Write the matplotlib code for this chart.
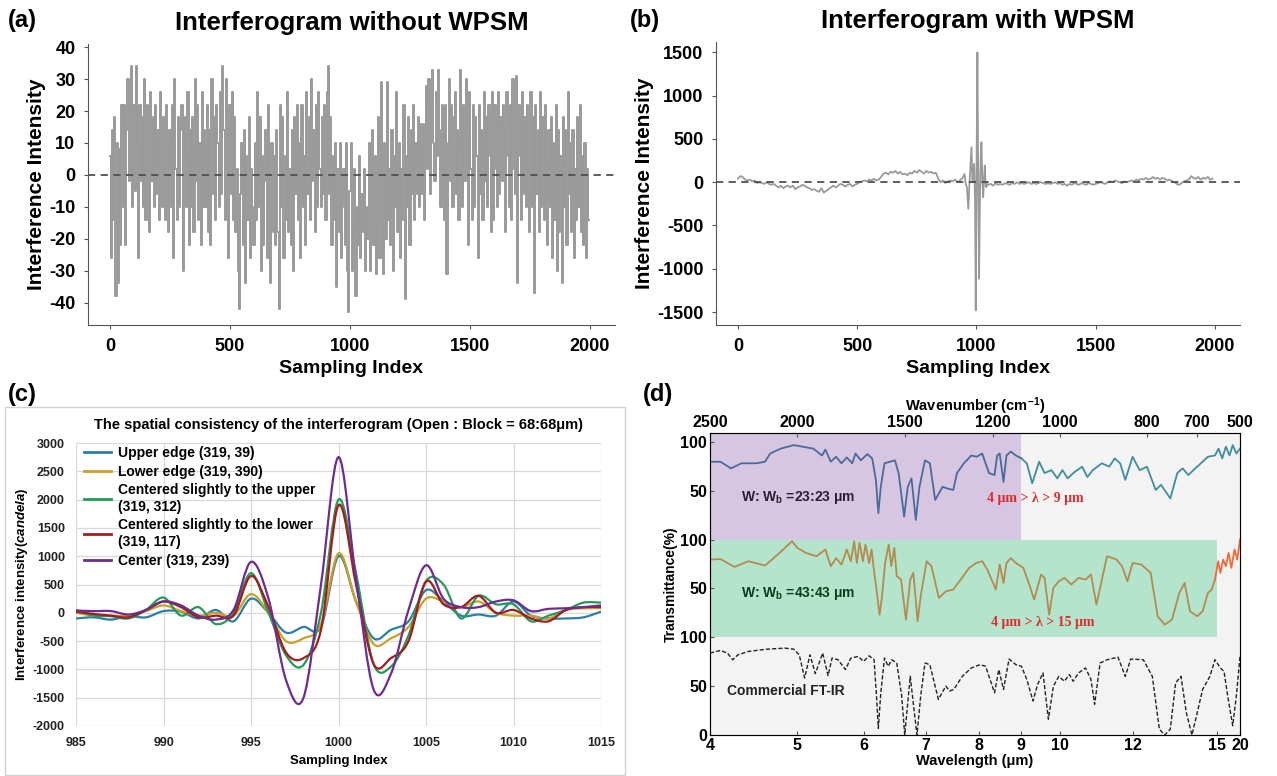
import numpy as np
import matplotlib.pyplot as plt
from matplotlib.path import Path
from matplotlib.patches import PathPatch, Rectangle

plt.rcParams['font.family'] = ['Liberation Sans', 'DejaVu Sans']
plt.rcParams['font.weight'] = 'bold'
plt.rcParams['axes.titleweight'] = 'bold'
plt.rcParams['axes.labelweight'] = 'bold'
plt.rcParams['axes.unicode_minus'] = False
plt.rcParams['mathtext.fontset'] = 'custom'
plt.rcParams['mathtext.rm'] = 'Liberation Sans:bold'
plt.rcParams['mathtext.bf'] = 'Liberation Sans:bold'
plt.rcParams['mathtext.it'] = 'Liberation Sans:italic:bold'

# ---------------- (a) interferogram without WPSM, every 5th sample ----------------
a_step = 5
a_vals = [
    6, -26, 14, -14, 18, -38, 10, -34, 8, -22, 22, -10, 22, -22, 14, 30, -2, 22, 34, -10,
    22, -5, 34, 10, -26, 22, -2, 18, -10, 30, -14, 22, 6, -18, 26, -2, 18, -10, 22, -6,
    14, -14, 26, 2, -10, 18, -14, 22, 10, -18, 14, -10, 22, -26, 30, 2, -14, 18, -10, 14,
    22, -30, 18, 6, -10, 26, -22, 14, -10, 18, -18, 30, -2, 22, -14, 10, -22, 26, -10, 14,
    -10, 22, -18, 14, -22, 30, -6, 18, -14, 22, 10, -10, 26, -6, 34, 14, -14, 30, 18, -26,
    22, -6, 26, -14, 18, -18, 2, -30, -42, -6, 10, -22, 14, -34, 6, -14, 18, -26, 2, -10,
    -22, 10, -14, 26, -10, 18, -30, 6, -22, -2, 14, -26, 22, -10, -34, 10, -18, 6, -22, 14,
    -18, -42, 22, -10, 18, -26, 6, -14, 26, -18, 2, -22, 14, -30, 18, -6, 22, -14, 10, -26,
    22, -10, 6, -22, 26, -6, 18, -14, 30, -2, 14, -18, 22, -10, 26, 2, -10, 18, -6, 22,
    -14, 26, 34, -6, 18, -22, 6, -14, 10, -35, 2, -18, 10, -26, -10, 2, -22, 10, -30, -43,
    -5, 10, -30, -18, 2, -38, -10, -22, 6, -26, -6, -18, 2, -30, -10, -20, 10, -30, -6, 14,
    -22, 6, -31, -10, 18, -26, 29, -14, -31, 10, -20, 29, -14, 2, -22, 14, -30, 6, -10, 26,
    -18, 10, -26, 2, -14, 22, -39, 6, -10, 18, -22, 14, -6, 22, -14, 10, -6, 18, -10, 16,
    -6, 16, -14, 10, 28, 2, 30, -6, 22, 33, 10, -2, 26, 6, 33, 14, -10, 22, 2, -14,
    22, -31, 10, 30, -2, 22, -10, 18, 26, -6, 14, -14, 33, 6, -10, 22, -2, 30, 14, -22,
    26, 2, -14, 22, -10, 18, 6, -26, 22, -6, 14, -14, 26, -2, 18, -10, 22, 6, -18, 26,
    -14, 22, 2, -10, 26, -6, 18, -2, 22, 14, -18, 26, 6, -10, 22, -14, 30, 2, -6, 31,
    -34, 22, 6, -14, 26, -6, 18, -10, 22, 2, -18, 26, -10, 18, -37, 22, -6, 14, -18, 26,
    -10, 18, -14, 22, 6, -22, 14, -10, 18, -26, 10, -14, 22, -30, 14, -18, 6, -34, 18, -10,
    14, -22, 26, -6, 10, -18, 14, -26, 2, -14, 18, -10, 22, -18, 6, -22, 10, -26, 2, -14,
]

# ---------------- (b) interferogram with WPSM ----------------
b_left_vals = [
    40, 70, 60, 30, 20, 30, 10, 20, -10, 0,
    -10, -20, 0, -20, -30, -20, -40, -60, -40, -70,
    -50, -40, -60, -40, -80, -60, -50, -30, -40, -60,
    -70, -90, -80, -100, -110, -70, -120, -100, -80, -60,
    -40, -60, -40, -20, -30, -50, -30, -20, -50, -30,
    -20, 0, 10, 20, 10, 30, 20, 40, 20, 30,
    60, 100, 110, 90, 120, 110, 130, 100, 120, 90,
    100, 80, 110, 100, 130, 110, 140, 120, 100, 130,
    110, 120, 100, 110, 40, 0, 20, -10, 10, 20,
    10, 30, 0, 20, 40,
]
b_burst_idx = [950, 955, 960, 966, 970, 974, 979, 983, 986, 990, 994, 997, 1000,
               1004, 1007, 1011, 1015, 1018, 1021, 1025, 1028, 1032, 1035, 1038, 1041, 1045]
b_burst_vals = [96, -20, -58, -308, -50, 135, 404, 0, 96, 212, -200, -1482, 0,
                1500, 200, -1116, -100, 300, 462, 0, -173, 50, 193, 0, -58, -20]
b_right_vals = [
    -30, -20, -40, -10, -30, -20, -30, -10, -20, -30,
    -10, -20, 0, -20, -10, -20, -10, 0, -20, -10,
    -20, -10, 0, -10, -20, -10, -20, -10, 0, -20,
    -10, -30, -20, -40, -20, -30, -10, -20, -30, -10,
    -20, -30, -10, -20, -30, -20, -10, 0, -10, -20,
    0, 10, 0, 20, 10, 0, -10, 10, 0, 10,
    20, 10, 30, 20, 40, 30, 50, 30, 40, 60,
    40, 50, 30, 50, 40, 20, 30, 10, 0, -20,
    -30, -10, 10, 20, 30, 70, 50, 40, 60, 30,
    50, 40, 60, 30, 40,
]

# ---------------- (c) spatial consistency ----------------
c_idx = list(range(985, 1016))
c_labels = ['Upper edge (319, 39)', 'Lower edge (319, 390)',
            'Centered slightly to the upper\n(319, 312)',
            'Centered slightly to the lower\n(319, 117)', 'Center (319, 239)']
c_colors = ['#2b7fa6', '#c9a128', '#27995a', '#a31d1d', '#6b2c93']
c_upper = [-100, -80, -120, -60, -80, 30, 20, -100, 50, -150, 250, 0, -350, -250, -250,
           1000, 200, -450, -300, -150, 400, 200, -50, -30, -50, 200, -50, -100, -100, -80, 20]
c_lower = [0, -50, -50, -50, 30, 130, 30, -50, 0, -50, 330, 0, -500, -450, -200,
           1050, 200, -550, -450, -250, 250, 200, 100, 200, 0, -50, -50, -100, 50, 80, 80]
c_up_center = [50, -50, -60, -100, 50, 270, -50, 100, -200, 0, 700, 0, -750, -920, 0,
               2000, 700, -900, -950, -400, 560, 500, -100, 300, 150, 150, -150, -50, 50, 180, 180]
c_low_center = [20, -20, -50, -80, 50, 200, 100, -80, -50, -50, 650, 100, -700, -800, -300,
                1900, 500, -900, -800, -500, 550, 150, 100, 300, 0, 50, -100, -150, 50, 100, 100]
c_center = [40, 30, 30, -30, 50, 200, 130, -50, -120, 50, 900, 250, -1190, -1500, 500,
            2750, 600, -1350, -1075, 50, 840, 250, 100, 100, 200, 220, 30, 70, 80, 100, 130]
c_series = [c_upper, c_lower, c_up_center, c_low_center, c_center]

# ---------------- (d) transmittance spectra (wavelength um, %T) ----------------
d_top_wl = [4.0, 4.12, 4.24, 4.36, 4.53, 4.63, 4.69, 4.81, 4.96, 5.08, 5.24, 5.37, 5.42, 5.5,
            5.58, 5.66, 5.74, 5.82, 5.87, 5.95, 6.05, 6.13, 6.19, 6.23, 6.27, 6.33, 6.42, 6.5,
            6.56, 6.65, 6.71, 6.77, 6.84, 6.9, 6.99, 7.08, 7.18, 7.32, 7.42, 7.52, 7.59, 7.72,
            7.86, 7.96, 8.08, 8.24, 8.37, 8.43, 8.49, 8.58, 8.65, 8.75, 8.87, 9.0, 9.14, 9.28,
            9.46, 9.6, 9.78, 9.93, 10.07, 10.21, 10.41, 10.61, 10.75, 10.9, 11.15, 11.35, 11.5,
            11.65, 11.79, 11.99, 12.24, 12.5, 12.81, 13.0, 13.33, 13.58, 13.77, 13.97, 14.22,
            14.42, 14.67, 14.92, 15.3, 16.1, 16.9, 17.7, 18.4, 19.2, 20.0]
d_top_T = [79.6, 79.6, 72.8, 78, 78, 79.6, 88, 93, 96.6, 95, 93, 86, 92, 79.6,
           84.7, 78, 84, 78, 88, 81, 87.4, 83, 61, 27, 54, 78, 79.6, 81,
           68, 23.5, 54, 62.6, 20, 54, 81, 78, 40.5, 54, 52, 50.7, 68, 78,
           86, 84.7, 88, 68, 66, 86, 88, 59, 86, 90, 86, 83, 78, 57.5,
           79.6, 68, 71, 62.6, 71, 62.6, 69.4, 74.5, 64, 71, 78, 74.5, 83,
           78, 61, 84.7, 71, 74.5, 50.7, 56, 42, 68, 72.8, 66, 72.8,
           78, 84.7, 86, 93, 83, 95, 86, 96.6, 88, 93]
d_mid_wl = [4.0, 4.12, 4.28, 4.44, 4.63, 4.73, 4.84, 4.94, 5.0, 5.13, 5.29, 5.42, 5.5, 5.58,
            5.66, 5.74, 5.8, 5.85, 5.89, 5.93, 5.98, 6.02, 6.08, 6.12, 6.16, 6.2, 6.25, 6.29,
            6.34, 6.4, 6.44, 6.49, 6.53, 6.6, 6.68, 6.75, 6.8, 6.87, 6.92, 7.02, 7.11, 7.25,
            7.38, 7.52, 7.66, 7.82, 7.95, 8.08, 8.2, 8.4, 8.49, 8.58, 8.65, 8.75, 8.87, 9.05,
            9.19, 9.33, 9.51, 9.6, 9.72, 9.83, 9.97, 10.12, 10.31, 10.51, 10.7, 10.85, 11.0,
            11.15, 11.29, 11.55, 11.7, 11.85, 11.99, 12.3, 12.63, 12.88, 13.13, 13.39, 13.65,
            13.84, 14.03, 14.29, 14.48, 14.67, 14.8, 14.92, 15.2, 15.7, 16.3, 16.9, 17.5,
            18.1, 18.8, 19.4, 20.0]
d_mid_T = [79.5, 80, 72, 77.8, 73.4, 81, 89.8, 98.3, 91.5, 86.3, 83, 89.8, 72.7, 81,
           74.4, 89.8, 77.8, 98.3, 76, 96.6, 77.8, 94.9, 76, 89.8, 67.6, 48.8, 23, 42,
           76, 94.9, 72.7, 91.5, 62.5, 59, 18, 59, 65.9, 16.4, 42, 77.8, 72.7, 40.3,
           47, 48.8, 59, 71, 76, 77.8, 69.3, 48.8, 74.4, 55.6, 76, 81, 76, 71,
           55.6, 38.6, 64.2, 60.8, 23, 50.5, 57.3, 60.8, 54, 60.8, 59, 64.2, 33.4,
           59, 83, 79.5, 72.7, 57.3, 76, 74.4, 65.9, 21.5, 13, 18, 45.4,
           55.6, 26.6, 21.5, 26.6, 45.4, 48.8, 59, 77.8, 65.9, 79.5, 72.7, 86.3,
           71, 89.8, 79.5, 100]
d_ref_wl = [4.0, 4.12, 4.2, 4.26, 4.32, 4.44, 4.65, 4.86, 4.96, 5.03, 5.11, 5.19, 5.27, 5.38,
            5.46, 5.52, 5.61, 5.72, 5.8, 5.91, 5.99, 6.08, 6.16, 6.2, 6.23, 6.27, 6.33, 6.39,
            6.45, 6.53, 6.61, 6.66, 6.75, 6.81, 6.86, 6.92, 6.99, 7.08, 7.24, 7.38, 7.45, 7.53,
            7.69, 7.86, 8.03, 8.16, 8.37, 8.47, 8.58, 8.71, 8.87, 9.0, 9.14, 9.3, 9.42, 9.56,
            9.7, 9.83, 9.97, 10.12, 10.26, 10.36, 10.51, 10.7, 10.85, 10.95, 11.1, 11.29, 11.59,
            11.79, 11.94, 12.37, 12.69, 12.94, 13.13, 13.33, 13.52, 13.71, 13.9, 14.1, 14.29,
            14.48, 14.74, 14.92, 15.7, 16.5, 17.3, 18.4, 19.2, 20.0]
d_ref_T = [83.8, 86.5, 83.8, 77, 82, 85.5, 87.8, 88.9, 87.8, 82, 58.4, 82, 62.8, 83.8,
           60.8, 78.7, 77, 66.9, 78.7, 80.4, 75.3, 81, 77, 39.9, 6.8, 43.2, 78.7, 70.3,
           77, 73.6, 40, 0, 60, 26.4, 0, 40, 73.6, 72, 36.5, 50, 45, 46.6,
           60, 68.6, 72, 70.3, 43.2, 66.9, 46.6, 77.7, 72, 70.3, 56.8, 34.8, 51.7, 63.5,
           16.2, 50, 60, 55, 61.8, 55, 63.5, 68.6, 56.8, 31.4, 73.6, 77, 79.7,
           60, 77.7, 77, 60, 6, 0, 6, 53.4, 60, 23, 0, 23,
           46.6, 60, 77, 68.6, 65, 40, 9.5, 40, 80.4]

# wavelength axis of (d) is drawn on the same uneven spacing as the original
d_wl_ticks = [4, 5, 6, 7, 8, 9, 10, 12, 15, 20]
d_wl_pos = [0, 0.1646, 0.291, 0.4068, 0.5071, 0.5876, 0.6603, 0.798, 0.957, 1.0]
d_wn_ticks = [2500, 2000, 1500, 1200, 1000, 800, 700, 500]
d_y_ticks = [0, 50, 100, 150, 200, 250, 300]
d_y_labels = ['0', '50', '100', '50', '100', '50', '100']


W, H = 1277, 776
fig = plt.figure(figsize=(W / 100, H / 100), dpi=100)


def box(l, t, r, b):
    return [l / W, 1 - b / H, (r - l) / W, (b - t) / H]


def interferogram(ax, x, y, ylim, yticks, title, lw, style):
    ax.plot(x, y, color='#9a9a9a', lw=lw, drawstyle=style)
    ax.axhline(0, color='#505050', lw=1.3, ls=(0, (4, 3)))
    ax.set_xlim(-92, 2105)
    ax.set_ylim(*ylim)
    ax.set_xticks([0, 500, 1000, 1500, 2000])
    ax.set_yticks(yticks)
    for s in ['top', 'right']:
        ax.spines[s].set_visible(False)
    for s in ['left', 'bottom']:
        ax.spines[s].set_color('#555555')
    ax.tick_params(labelsize=13, length=3, color='#555555', pad=6)
    ax.set_xlabel('Sampling Index', fontsize=14, labelpad=4)
    ax.set_ylabel('Interference Intensity', fontsize=15, labelpad=2)
    ax.set_title(title, fontsize=18.5, pad=10)


ax_a = fig.add_axes(box(88, 44, 615, 325))
a_idx = np.arange(len(a_vals)) * a_step
interferogram(ax_a, a_idx, a_vals, (-47, 41), [-40, -30, -20, -10, 0, 10, 20, 30, 40],
              'Interferogram without WPSM', 1.4, 'steps-mid')

ax_b = fig.add_axes(box(716, 42, 1240, 325))
b_idx = np.concatenate([np.arange(0, 950, 10), b_burst_idx, np.arange(1050, 2000, 10)])
b_vals = np.concatenate([b_left_vals, b_burst_vals, b_right_vals])
interferogram(ax_b, b_idx, b_vals, (-1650, 1620), [-1500, -1000, -500, 0, 500, 1000, 1500],
              'Interferogram with WPSM', 1.3, 'default')

# ---------------- (c) ----------------
fig.patches.append(Rectangle((5 / W, 1 - 775 / H), 620 / W, 368 / H, transform=fig.transFigure,
                             fill=False, ec='#d0d0d0', lw=1.0))
ax_c = fig.add_axes(box(76, 443, 601, 726))


def smooth_path(x, y):
    pts = np.column_stack([x, y]).astype(float)
    n = len(pts)
    verts = [pts[0]]
    codes = [Path.MOVETO]
    for i in range(n - 1):
        p0, p1 = pts[max(i - 1, 0)], pts[i]
        p2, p3 = pts[i + 1], pts[min(i + 2, n - 1)]
        verts += [p1 + (p2 - p0) / 6, p2 - (p3 - p1) / 6, p2]
        codes += [Path.CURVE4] * 3
    return Path(verts, codes)


for vals, col, lab in zip(c_series, c_colors, c_labels):
    ax_c.add_patch(PathPatch(smooth_path(c_idx, vals), fill=False, ec=col, lw=1.6))
    ax_c.plot([], [], color=col, lw=2, label=lab)
ax_c.set_xlim(985, 1015)
ax_c.set_ylim(-2000, 3000)
ax_c.set_xticks(range(985, 1016, 5))
ax_c.set_yticks(range(-2000, 3001, 500))
ax_c.grid(True, color='#d9d9d9', lw=0.9)
ax_c.set_axisbelow(True)
for s in ax_c.spines.values():
    s.set_visible(False)
ax_c.tick_params(length=0, labelsize=9, labelcolor='#222222', pad=8)
ax_c.set_xlabel('Sampling Index', fontsize=9.5, labelpad=4)
ax_c.set_ylabel(r'Interference intensity($\mathit{candela}$)', fontsize=9.5, labelpad=2)
ax_c.set_title('The spatial consistency of the interferogram (Open : Block = 68:68μm)',
               fontsize=10.5, pad=10)
ax_c.legend(loc='upper left', bbox_to_anchor=(0.0, 1.02), frameon=False, fontsize=10,
            handlelength=1.9, handletextpad=0.5, labelspacing=0.35, borderaxespad=0.2)

# ---------------- (d) ----------------
ax_d = fig.add_axes(box(710, 433, 1240, 735))


def fwd(x):
    return np.interp(x, d_wl_ticks, d_wl_pos)


def inv(p):
    return np.interp(p, d_wl_pos, d_wl_ticks)


ax_d.set_facecolor('#f3f3f3')
ax_d.set_xscale('function', functions=(fwd, inv))
ax_d.set_xlim(4, 20)
ax_d.set_ylim(0, 309)
ax_d.add_patch(Rectangle((4, 200), 5, 120, color='#d7c6e1', lw=0, zorder=0.5))
ax_d.add_patch(Rectangle((4, 100), 11, 100, color='#b5e4cc', lw=0, zorder=0.5))

top_wl = np.array(d_top_wl)
top_T = np.array(d_top_T) + 200
ax_d.plot(np.where(top_wl <= 9.0, top_wl, np.nan), top_T, color='#4a6a9c', lw=1.3)
ax_d.plot(np.where(top_wl >= 9.0, top_wl, np.nan), top_T, color='#3f8d9f', lw=1.3)
mid_wl = np.array(d_mid_wl)
mid_T = np.array(d_mid_T) + 100
ax_d.plot(np.where(mid_wl <= 14.92, mid_wl, np.nan), mid_T, color='#b38b50', lw=1.3)
ax_d.plot(np.where(mid_wl >= 14.92, mid_wl, np.nan), mid_T, color='#f06a3a', lw=1.3)
ax_d.plot(d_ref_wl, d_ref_T, color='#222222', lw=1.0, ls=(0, (3, 1.5)))

ax_d.set_xticks(d_wl_ticks)
ax_d.set_xticklabels([str(t) for t in d_wl_ticks])
ax_d.xaxis.set_minor_locator(plt.NullLocator())
ax_d.set_yticks(d_y_ticks)
ax_d.set_yticklabels(d_y_labels)
ax_d.tick_params(direction='in', length=3, labelsize=11.5, pad=2, color='#555555')
for s in ax_d.spines.values():
    s.set_color('#555555')
ax_d.set_xlabel('Wavelength (μm)', fontsize=10.5, labelpad=1)
ax_d.set_ylabel('Transmittance(%)', fontsize=10, labelpad=2)

ax_t = ax_d.twiny()
ax_t.set_xscale('function', functions=(fwd, inv))
ax_t.set_xlim(4, 20)
ax_t.set_xticks([10000 / k for k in d_wn_ticks])
ax_t.set_xticklabels([str(k) for k in d_wn_ticks])
ax_t.xaxis.set_minor_locator(plt.NullLocator())
ax_t.tick_params(direction='in', length=3, labelsize=11.5, pad=2, color='#555555')
ax_t.set_xlabel(r'Wavenumber (cm$^{\mathbf{-1}}$)', fontsize=10.5, labelpad=3)

ax_d.text(4.35, 243, 'W: W$_\\mathbf{b}$ =23:23 μm', fontsize=10, color='#2a1f35', va='center')
ax_d.text(4.35, 145, 'W: W$_\\mathbf{b}$ =43:43 μm', fontsize=10, color='#0b3d1e', va='center')
ax_d.text(4.2, 45, 'Commercial FT-IR', fontsize=10, color='#222222', va='center')
ax_d.text(9.35, 242, '4 μm > λ > 9 μm', fontsize=10, color='#e02a2a', ha='center',
          va='center', family='Liberation Serif')
ax_d.text(9.55, 115, '4 μm > λ > 15 μm', fontsize=10, color='#e02a2a', ha='center',
          va='center', family='Liberation Serif')

# panel letters
for lab, x, y in [('(a)', 8, 20), ('(b)', 630, 20), ('(c)', 8, 395), ('(d)', 643, 395)]:
    fig.text(x / W, 1 - y / H, lab, fontsize=17, va='center', ha='left')

fig.savefig('out.png', dpi=100)
